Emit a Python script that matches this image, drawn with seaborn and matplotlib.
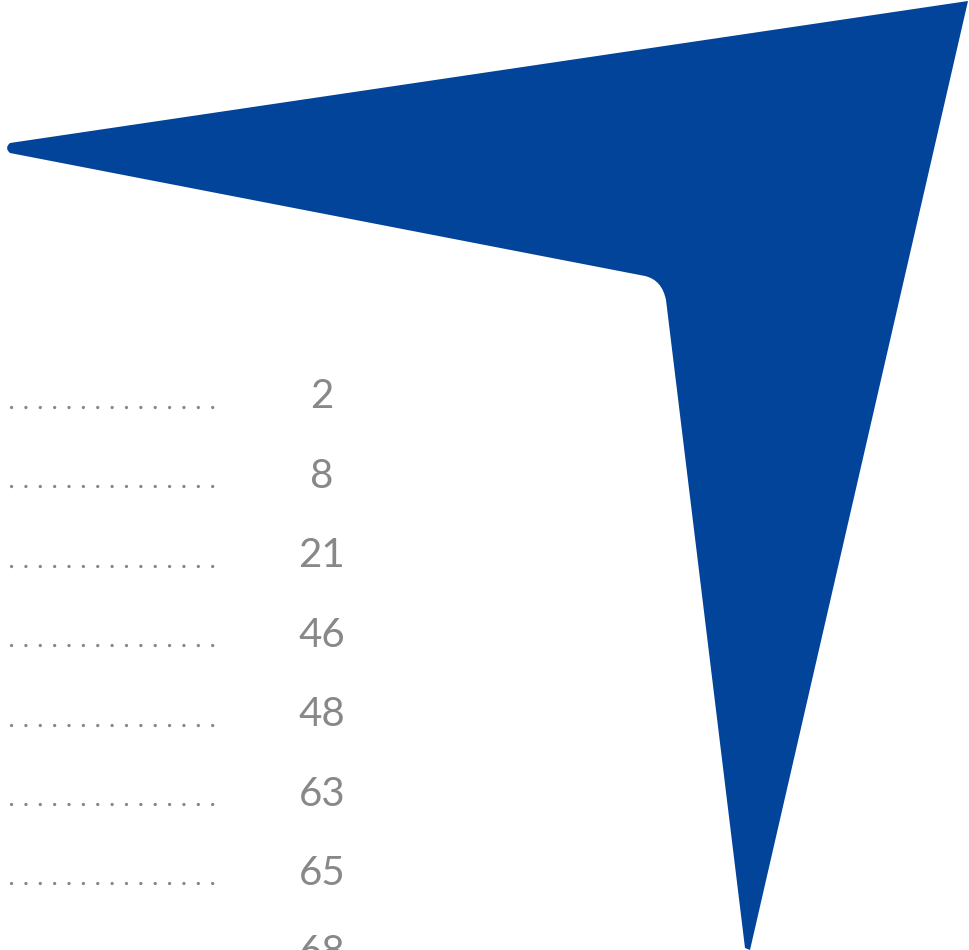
import numpy as np
import pandas as pd
import matplotlib
matplotlib.use("Agg")
import matplotlib.pyplot as plt
from matplotlib.path import Path
from matplotlib.patches import PathPatch
import seaborn as sns

# values shown next to the leader dots (last one is cut off by the frame)
values = [2, 8, 21, 46, 48, 63, 65, 68]
rows = list(range(len(values)))

BLUE = "#03449b"
GREY = "#888888"

sns.set_theme(style="white")
plt.rcParams['font.family'] = ['Lato', 'DejaVu Sans']

fig = plt.figure(figsize=(9.7, 9.5), dpi=100)
ax = fig.add_axes([0, 0, 1, 1])

# leader dots, one dotted line per row (no leader on the cut-off row)
lead = pd.DataFrame({
    'row': [r for r in rows[:-1] for _ in range(2)],
    'x': [0, 214] * (len(rows) - 1),
})
lead['y'] = lead['row'] + 0.125
sns.lineplot(data=lead, x='x', y='y', units='row', estimator=None,
             color=GREY, linewidth=2.4, ax=ax, legend=False)
for ln in ax.get_lines():
    ln.set_linestyle((1, (0.01, 4.3)))
    ln.set_dash_capstyle('round')

for r, v in zip(rows, values):
    ax.text(322, r, str(v), ha='center', va='center', fontsize=29,
            color=GREY, fontweight='normal')

# the blue pointer shape, drawn in figure pixel coordinates
def px(x, y):
    return (x / 970.0, 1 - y / 950.0)

verts = [px(10, 143), px(968, 1), px(750, 950), px(745, 948),
         px(666, 300), px(662, 280), px(645, 276), px(10, 153), px(4, 148), px(10, 143)]
codes = [Path.MOVETO, Path.LINETO, Path.LINETO, Path.LINETO,
         Path.LINETO, Path.CURVE3, Path.CURVE3, Path.LINETO, Path.CURVE3, Path.CURVE3]
ax.add_patch(PathPatch(Path(verts, codes), facecolor=BLUE, edgecolor='none',
                       transform=fig.transFigure, zorder=5))

ax.set_xlim(0, 970)
ax.set_ylim((950 - 397) / 79.4, -397 / 79.4)
ax.set_axis_off()

fig.savefig("out.png", dpi=100, facecolor="white")
